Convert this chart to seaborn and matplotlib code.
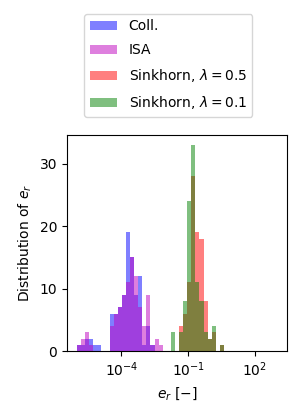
import numpy as np
import pandas as pd
import matplotlib
matplotlib.use("Agg")
import matplotlib.pyplot as plt
import seaborn as sns
from matplotlib.ticker import NullLocator

'''Data read off the histogram'''

# shared bin edges, in log10(e_r)
bin_edges_log = np.linspace(-6, 3, 50)

# counts per bin, the list starts at bin index given in *_start
coll = [1, 1, 2, 2, 1, 1, 0, 0, 6, 6, 7, 9, 19, 15, 9, 12, 1, 4, 1]
coll_start = 0
isa = [1, 2, 3, 1, 0, 0, 0, 0, 4, 6, 7, 9, 11, 15, 12, 7, 4, 9, 1, 2, 1]
isa_start = 0
sink_05 = [4, 6, 11, 28, 19, 18, 8, 2, 3, 0, 1]
sink_05_start = 25
sink_01 = [3, 0, 3, 8, 24, 33, 11, 8, 3, 2, 4, 0, 1]
sink_01_start = 23

labels = ['Coll.', 'ISA', r'Sinkhorn, $\lambda = 0.5$', r'Sinkhorn, $\lambda = 0.1$']
colors = ['b', 'm', 'r', 'g']


def collect_data(counts, start):
    '''Bin centers (in e_r units) with their counts'''
    n = len(counts)
    lo = bin_edges_log[start:start + n]
    hi = bin_edges_log[start + 1:start + n + 1]
    df = pd.DataFrame()
    df['e_r'] = 10 ** ((lo + hi) / 2)
    df['count'] = counts
    return df


fig = plt.figure(figsize=(2.99, 4.17), dpi=100)
ax = fig.add_axes([0.224, 0.158, 0.736, 0.519])

series = [(coll, coll_start), (isa, isa_start), (sink_05, sink_05_start), (sink_01, sink_01_start)]
for (counts, start), lab, col in zip(series, labels, colors):
    df = collect_data(counts, start)
    # bins as a plain list (seaborn compares bins to a string internally)
    sns.histplot(data=df, x='e_r', weights='count', bins=list(bin_edges_log),
                 log_scale=True, color=col, alpha=0.5, linewidth=0, label=lab, ax=ax)

ax.set_xlim(10 ** -6.45, 10 ** 3.45)
ax.set_xticks([1e-4, 1e-1, 1e2])
ax.xaxis.set_minor_locator(NullLocator())
ax.set_yticks([0, 10, 20, 30])
ax.set_xlabel(r'$e_r\ [-]$')
ax.set_ylabel(r'Distribution of $e_r$')
ax.legend(loc='lower center', bbox_to_anchor=(0.46, 1.05), labelspacing=0.72)

fig.savefig('out.png', dpi=100)
